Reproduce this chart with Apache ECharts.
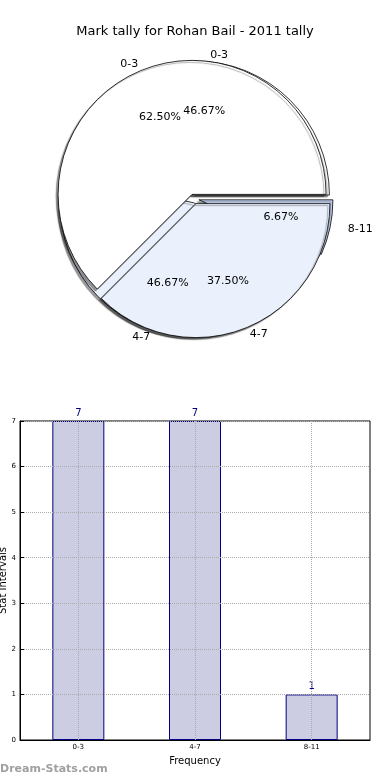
<!DOCTYPE html>
<html><head><meta charset="utf-8">
<script src="https://cdn.jsdelivr.net/npm/echarts@6/dist/echarts.min.js"></script>
<style>html,body{margin:0;padding:0;background:#fff}#c{width:390px;height:780px}</style>
</head><body><div id="c"></div>
<script>
const titleText = 'Mark tally for Rohan Bail - 2011 tally';
const pieA_names = ['0-3', '4-7'];
const pieA_values = [5, 3];
const pieB_names = ['0-3', '4-7', '8-11'];
const pieB_values = [7, 7, 1];
const barCategories = ['0-3', '4-7', '8-11'];
const barValues = [7, 7, 1];
const yTicks = [0, 1, 2, 3, 4, 5, 6, 7];

const FONT = 'DejaVu Sans';
const pieAColors = ['#ffffff', '#ebf1fc'];
const pieBColors = ['#ffffff', '#ebf1fc', '#c6d6f6'];
const R = 134;
const CENTER_A = [194, 199];
const CENTER_B = [195, 199];

function pct(vals, i) {
  const s = vals.reduce((a, b) => a + b, 0);
  return (vals[i] / s * 100).toFixed(2) + '%';
}

function pieSeries(names, values, colors, center, offset, z, kind) {
  const base = {
    type: 'pie', center: center, startAngle: 0, clockwise: false,
    selectedMode: 'multiple', selectedOffset: offset, animation: false,
    avoidLabelOverlap: false, silent: true, z: z,
    labelLayout: { hideOverlap: false },
    emphasis: { disabled: true }
  };
  if (kind === 'shape') {
    return Object.assign(base, {
      radius: [0, R],
      label: { show: false }, labelLine: { show: false },
      itemStyle: { borderColor: '#000', borderWidth: 0.8, shadowColor: 'rgba(0,0,0,0.4)', shadowBlur: 1, shadowOffsetX: -2, shadowOffsetY: 2 },
      select: { itemStyle: { borderColor: '#000', borderWidth: 0.8 } },
      data: names.map((n, i) => ({ name: n, value: values[i], selected: true,
        itemStyle: { color: colors[i] }, select: { itemStyle: { color: colors[i] } } }))
    });
  }
  if (kind === 'pct') {
    return Object.assign(base, {
      radius: [70, 92],
      label: { show: true, position: 'inside', color: '#000', fontFamily: FONT, fontSize: 11,
        formatter: p => pct(values, p.dataIndex) },
      labelLine: { show: false },
      itemStyle: { color: 'rgba(0,0,0,0)', borderWidth: 0 },
      select: { itemStyle: { color: 'rgba(0,0,0,0)', borderWidth: 0 } },
      data: names.map((n, i) => ({ name: n, value: values[i], selected: true }))
    });
  }
  return Object.assign(base, {
    radius: [0, R],
    label: { show: true, position: 'outside', color: '#000', fontFamily: FONT, fontSize: 11,
      distanceToLabelLine: 0, alignTo: 'none', formatter: p => p.name },
    labelLine: { show: false, length: 7, length2: 0 },
    itemStyle: { color: 'rgba(0,0,0,0)', borderWidth: 0 },
    select: { itemStyle: { color: 'rgba(0,0,0,0)', borderWidth: 0 } },
    data: names.map((n, i) => ({ name: n, value: values[i], selected: true,
      label: n === '8-11' ? { distanceToLabelLine: 11 } : {} }))
  });
}

const chart = echarts.init(document.getElementById('c'));
chart.setOption({
  backgroundColor: '#fff',
  title: { text: titleText, left: 'center', top: 20,
    textStyle: { fontFamily: FONT, fontSize: 13, fontWeight: 'normal', color: '#000' } },
  grid: { left: 20, right: 20, top: 421, bottom: 40, outerBoundsMode: 'none', containLabel: false,
    show: true, borderColor: '#000', borderWidth: 1, backgroundColor: 'transparent' },
  xAxis: {
    type: 'category', data: barCategories, name: 'Frequency', nameLocation: 'middle', nameGap: 16, z: 3,
    nameTextStyle: { fontFamily: FONT, fontSize: 10, color: '#000' },
    axisLine: { lineStyle: { color: '#000' } },
    axisTick: { alignWithLabel: true, inside: true, length: 4, lineStyle: { color: '#000' } },
    axisLabel: { fontFamily: FONT, fontSize: 7, color: '#000', margin: 4 },
    splitLine: { show: true, alignWithLabel: true, lineStyle: { color: '#aaaaaa', type: 'dotted' } }
  },
  yAxis: {
    type: 'value', min: 0, max: 7, interval: 1, name: 'Stat Intervals', nameLocation: 'middle', nameGap: 12,
    nameMoveOverlap: false, z: 3,
    nameTextStyle: { fontFamily: FONT, fontSize: 10, color: '#000' },
    axisLine: { show: true, lineStyle: { color: '#000' } },
    axisTick: { show: true, inside: true, length: 4, lineStyle: { color: '#000' } },
    axisLabel: { fontFamily: FONT, fontSize: 7, color: '#000', margin: 4, formatter: v => yTicks.includes(v) ? String(v) : '' },
    splitLine: { show: true, lineStyle: { color: '#aaaaaa', type: 'dotted' } }
  },
  graphic: [{ type: 'text', left: 0, top: 764, z: 10, style: { text: 'Dream-Stats.com', fontFamily: FONT, fontSize: 11, fontWeight: 'bold', fill: '#a0a0a0' } }],
  series: [
    pieSeries(pieB_names, pieB_values, pieBColors, CENTER_B, 4, 1, 'shape'),
    pieSeries(pieA_names, pieA_values, pieAColors, CENTER_A, 5, 2, 'shape'),
    pieSeries(pieB_names, pieB_values, pieBColors, CENTER_B, 4, 3, 'pct'),
    pieSeries(pieA_names, pieA_values, pieAColors, CENTER_A, 5, 3, 'pct'),
    pieSeries(pieB_names, pieB_values, pieBColors, CENTER_B, 4, 3, 'name'),
    pieSeries(pieA_names, pieA_values, pieAColors, CENTER_A, 5, 3, 'name'),
    {
      type: 'bar', data: barValues, barWidth: 52, animation: false, z: 1,
      itemStyle: { color: '#cccce3', borderColor: '#000080', borderWidth: 1 },
      label: { show: true, position: 'top', color: '#000080', fontFamily: FONT, fontSize: 10, distance: 3 }
    }
  ]
});
</script></body></html>
